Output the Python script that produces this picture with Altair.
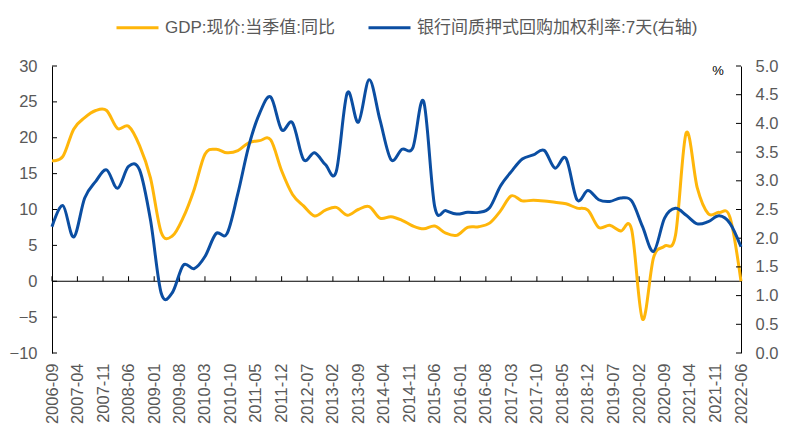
import altair as alt
import pandas as pd

# Quarterly observations, 2006-09 .. 2022-06 (quarter-end months)
quarters = pd.date_range("2006-09-01", "2022-06-01", freq="3MS")

# GDP, current prices, single-quarter value, YoY (%)
gdp_yoy = [
    16.8, 17.4, 21.2, 22.8, 23.8, 23.8, 21.3, 21.6, 18.9, 14.4,
    6.8, 6.3, 8.9, 12.8, 17.7, 18.4, 17.9, 18.2, 19.3, 19.6,
    19.7, 15.4, 12.1, 10.5, 9.1, 9.9, 10.3, 9.2, 10.0, 10.4,
    8.8, 9.0, 8.5, 7.7, 7.3, 7.7, 6.7, 6.4, 7.5, 7.6,
    8.1, 9.8, 11.9, 11.2, 11.3, 11.2, 11.0, 10.8, 10.2, 9.9,
    7.5, 7.8, 7.0, 7.2, -5.3, 3.3, 4.9, 6.4, 20.7, 13.0,
    9.4, 9.6, 8.9, 0.0,
]

# Interbank pledged repo weighted rate, 7-day (%), right axis
repo_7d = [
    2.20, 2.57, 2.02, 2.70, 2.99, 3.19, 2.87, 3.25, 3.19, 2.32,
    1.04, 1.05, 1.53, 1.47, 1.68, 2.08, 2.08, 2.78, 3.60, 4.18,
    4.46, 3.89, 4.01, 3.37, 3.49, 3.28, 3.16, 4.53, 4.02, 4.76,
    4.06, 3.37, 3.55, 3.58, 4.38, 2.55, 2.48, 2.42, 2.45, 2.45,
    2.53, 2.91, 3.16, 3.38, 3.45, 3.53, 3.22, 3.39, 2.67, 2.83,
    2.67, 2.64, 2.70, 2.65, 2.20, 1.77, 2.35, 2.52, 2.40, 2.25,
    2.29, 2.39, 2.26, 1.85,
]

tick_months = [
    "2006-09", "2007-04", "2007-11", "2008-06", "2009-01", "2009-08",
    "2010-03", "2010-10", "2011-05", "2011-12", "2012-07", "2013-02",
    "2013-09", "2014-04", "2014-11", "2015-06", "2016-01", "2016-08",
    "2017-03", "2017-10", "2018-05", "2018-12", "2019-07", "2020-02",
    "2020-09", "2021-04", "2021-11", "2022-06",
]
left_ticks = [-10, -5, 0, 5, 10, 15, 20, 25, 30]
right_ticks = [0.0, 0.5, 1.0, 1.5, 2.0, 2.5, 3.0, 3.5, 4.0, 4.5, 5.0]

GDP_NAME = "GDP:现价:当季值:同比"
REPO_NAME = "银行间质押式回购加权利率:7天(右轴)"
YELLOW = "#FFB60A"
BLUE = "#0B4EA2"
GREY = "#595959"
FONT = "Liberation Sans, Noto Sans CJK SC"
AXIS_FS = 16.5

W, H = 689, 287


def month_dt(s):
    y, m = s.split("-")
    return alt.DateTime(year=int(y), month=int(m), date=1)


gdp_df = pd.DataFrame({"date": quarters, "value": gdp_yoy, "series": GDP_NAME})
repo_df = pd.DataFrame({"date": quarters, "value": repo_7d, "series": REPO_NAME})
xtick_df = pd.DataFrame({"date": pd.to_datetime(tick_months)})
ltick_df = pd.DataFrame({"value": left_ticks})
rtick_df = pd.DataFrame({"value": right_ticks})
zero_df = pd.DataFrame({"value": [0]})

x_enc = alt.X(
    "date:T",
    scale=alt.Scale(domain=[month_dt(tick_months[0]), month_dt(tick_months[-1])]),
    axis=alt.Axis(
        values=[month_dt(s) for s in tick_months],
        format="%Y-%m",
        labelAngle=-90,
        labelFlush=False,
        labelOverlap=False,
        labelBound=False,
        domain=False,
        ticks=False,
        grid=False,
        labelPadding=10,
        labelFontSize=AXIS_FS,
        labelColor=GREY,
        labelFont=FONT,
        title=None,
    ),
)

color_enc = alt.Color(
    "series:N",
    scale=alt.Scale(domain=[GDP_NAME, REPO_NAME], range=[YELLOW, BLUE]),
    legend=alt.Legend(
        title=None,
        orient="none",
        legendX=63,
        legendY=-61,
        direction="horizontal",
        symbolType="stroke",
        symbolSize=1764,
        symbolStrokeWidth=3,
        labelFontSize=17,
        labelFont=FONT,
        labelColor=GREY,
        labelLimit=600,
        labelOffset=5,
        columnPadding=26,
    ),
)

left_axis = alt.Axis(
    orient="left",
    values=left_ticks,
    tickSize=0,
    domainColor="black",
    labelPadding=15,
    labelFontSize=AXIS_FS,
    labelColor=GREY,
    labelFont=FONT,
    labelOverlap=False,
    grid=False,
    title=None,
)
left_scale = alt.Scale(domain=[left_ticks[0], left_ticks[-1]], nice=False, zero=False)

right_axis = alt.Axis(
    orient="right",
    values=right_ticks,
    format=".1f",
    tickSize=0,
    domainColor="black",
    labelPadding=14,
    labelFontSize=AXIS_FS,
    labelColor=GREY,
    labelFont=FONT,
    labelOverlap=False,
    grid=False,
    title="%",
    titleAngle=0,
    titleX=-23.5,
    titleY=4,
    titleAlign="center",
    titleBaseline="middle",
    titleFontSize=13,
    titleFontWeight="normal",
    titleColor="black",
    titleFont=FONT,
)
right_scale = alt.Scale(domain=[right_ticks[0], right_ticks[-1]], nice=False, zero=False)

# Left axis group: GDP growth
gdp_line = alt.Chart(gdp_df).mark_line(
    interpolate="cardinal", strokeWidth=3
).encode(
    x=x_enc,
    y=alt.Y("value:Q", scale=left_scale, axis=left_axis),
    color=color_enc,
)

zero_line = alt.Chart(zero_df).mark_rule(color="black", strokeWidth=1).encode(
    y=alt.Y("value:Q", scale=left_scale, axis=left_axis)
)

# Category ticks sit on the zero line and point upward
x_ticks = alt.Chart(xtick_df).mark_tick(
    orient="vertical", size=5, thickness=1, color="black", opacity=1, yOffset=-2.5
).encode(x=x_enc, y=alt.YDatum(0, scale=left_scale, axis=left_axis))

left_ticks_mark = alt.Chart(ltick_df).mark_tick(
    orient="horizontal", size=5, thickness=1, color="black", opacity=1
).encode(y=alt.Y("value:Q", scale=left_scale, axis=left_axis), x=alt.value(2.5))

left_group = alt.layer(zero_line, x_ticks, left_ticks_mark, gdp_line)

# Right axis group: 7-day repo rate
repo_line = alt.Chart(repo_df).mark_line(
    interpolate="cardinal", strokeWidth=3
).encode(
    x=x_enc,
    y=alt.Y("value:Q", scale=right_scale, axis=right_axis),
    color=color_enc,
)

right_ticks_mark = alt.Chart(rtick_df).mark_tick(
    orient="horizontal", size=5, thickness=1, color="black", opacity=1
).encode(y=alt.Y("value:Q", scale=right_scale, axis=right_axis), x=alt.value(W - 2.5))

right_group = alt.layer(right_ticks_mark, repo_line)

chart = (
    alt.layer(left_group, right_group)
    .resolve_scale(y="independent")
    .properties(
        width=W,
        height=H,
        padding={"left": 52, "top": 66, "right": 57, "bottom": 84},
        autosize=alt.AutoSizeParams(type="none"),
        background="white",
    )
    .configure_view(stroke=None)
    .configure_axis(labelOverlap=False)
)

chart.save("out.html", embed_options={"renderer": "svg", "actions": False})
